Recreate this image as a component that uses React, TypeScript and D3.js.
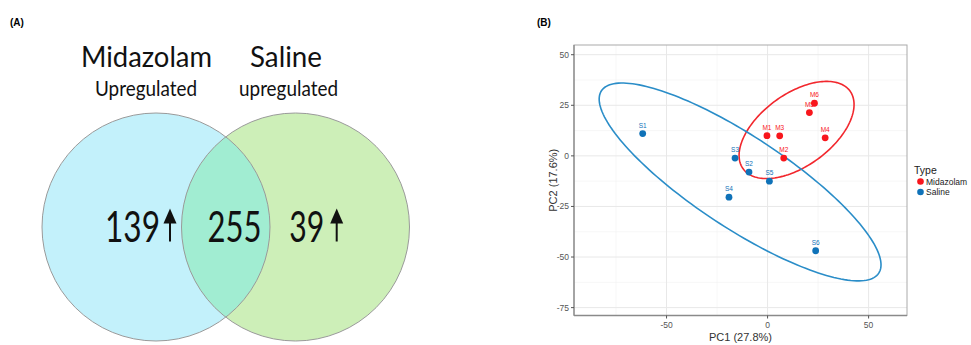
import React from 'react';
import * as d3 from 'd3';

// ---- Venn (A) data ----
const vennSets = ['Midazolam', 'Saline'];
const vennSubtitles = ['Upregulated', 'upregulated'];
const vennCounts = [139, 255, 39]; // left only, shared, right only
const vennArrows = [true, false, true];

// ---- PCA (B) data ----
const sampleNames = ['M1', 'M2', 'M3', 'M4', 'M5', 'M6', 'S1', 'S2', 'S3', 'S4', 'S5', 'S6'];
const sampleType = ['Midazolam', 'Midazolam', 'Midazolam', 'Midazolam', 'Midazolam', 'Midazolam',
  'Saline', 'Saline', 'Saline', 'Saline', 'Saline', 'Saline'];
const pc1 = [-0.3, 8.0, 6.0, 28.5, 20.7, 23.2, -61.8, -9.2, -16.1, -19.1, 0.9, 23.8];
const pc2 = [10.0, -1.1, 9.9, 8.9, 21.4, 26.0, 11.0, -8.0, -1.1, -20.4, -12.5, -46.9];
const typeLevels = ['Midazolam', 'Saline'];
const typeColors = ['#f8161c', '#0f72b8'];
const ellipseColors = ['#f2272d', '#2a8dc8'];
// 95% ellipses: centre, semi axes, rotation (deg), in data units
const ellCx = [14.35, -13.6];
const ellCy = [12.8, -12.9];
const ellA = [32.7, 82.1];
const ellB = [17.8, 22.7];
const ellAngle = [36, -33.3];
const xTicks = [-50, 0, 50];
const yTicks = [-75, -50, -25, 0, 25, 50];

const W = 971;
const H = 345;

const vennFont = "Lato, 'Open Sans', sans-serif";

function Venn() {
  const r = 114;
  const cy = 227;
  const cx = d3.scaleOrdinal<string, number>().domain(vennSets).range([156, 295.5]);
  const fills = ['#c3f1fb', '#cdefb8'];
  // text boxes (left x, width) measured on the reference
  const titleBox = [[81, 131], [250, 72]];
  const subBox = [[95, 102], [239, 99]];
  const countBox = [[105, 55], [207.5, 54], [289.3, 35]];
  const arrowX = [170, 336.7];
  let arrowIdx = 0;
  return (
    <g>
      <text x={10} y={26} fontFamily="Arial, 'Liberation Sans', sans-serif" fontWeight="bold" fontSize={10}>(A)</text>
      <defs>
        <clipPath id="clipLeft">
          <circle cx={cx(vennSets[0])} cy={cy} r={r} />
        </clipPath>
      </defs>
      {vennSets.map((s, i) => (
        <circle key={s} cx={cx(s)} cy={cy} r={r} fill={fills[i]} />
      ))}
      <circle cx={cx(vennSets[1])} cy={cy} r={r} fill="#a1edd2" clipPath="url(#clipLeft)" />
      {vennSets.map((s) => (
        <circle key={s + 'o'} cx={cx(s)} cy={cy} r={r} fill="none" stroke="#9a9a9a" strokeWidth={1} />
      ))}
      {vennSets.map((s, i) => (
        <g key={s + 't'} fontFamily={vennFont} fill="#111">
          <text x={titleBox[i][0]} y={66.5} fontSize={29.5} textLength={titleBox[i][1]} lengthAdjust="spacingAndGlyphs">{s}</text>
          <text x={subBox[i][0]} y={95.5} fontSize={22} textLength={subBox[i][1]} lengthAdjust="spacingAndGlyphs">{vennSubtitles[i]}</text>
        </g>
      ))}
      {vennCounts.map((c, i) => {
        const ax = vennArrows[i] ? arrowX[arrowIdx++] : 0;
        return (
          <g key={'c' + i}>
            <text x={countBox[i][0]} y={241.5} fontSize={43} fontFamily={vennFont} fill="#111"
              textLength={countBox[i][1]} lengthAdjust="spacingAndGlyphs">{c}</text>
            {vennArrows[i] && (
              <g transform={`translate(${ax},0)`}>
                <line x1={0} x2={0} y1={220} y2={241.5} stroke="#111" strokeWidth={2} />
                <path d="M-6.5,223.5 L0,208.5 L6.5,223.5 Z" fill="#111" />
              </g>
            )}
          </g>
        );
      })}
    </g>
  );
}

function Pca() {
  const left = 574, right = 907, top = 45, bottom = 315.5;
  const x = d3.scaleLinear().domain([-95.8, 69]).range([left, right]);
  const y = d3.scaleLinear().domain([-78.9, 54.8]).range([bottom, top]);
  const color = d3.scaleOrdinal<string, string>().domain(typeLevels).range(typeColors);
  const xMinor = d3.range(-75, 70, 50);
  const yMinor = d3.range(-62.5, 55, 25);
  const line = d3.line<[number, number]>().x((d) => x(d[0])).y((d) => y(d[1])).curve(d3.curveLinearClosed);
  const ellipses = typeLevels.map((t, k) => {
    const th = (ellAngle[k] * Math.PI) / 180;
    const pts: [number, number][] = d3.range(0, 360, 2).map((deg) => {
      const a = (deg * Math.PI) / 180;
      const u = ellA[k] * Math.cos(a);
      const v = ellB[k] * Math.sin(a);
      return [ellCx[k] + u * Math.cos(th) - v * Math.sin(th), ellCy[k] + u * Math.sin(th) + v * Math.cos(th)];
    });
    return line(pts);
  });
  const font = "Helvetica, Arial, 'Liberation Sans', sans-serif";
  return (
    <g fontFamily={font}>
      <text x={537} y={26} fontWeight="bold" fontSize={10}>(B)</text>
      <rect x={left} y={top} width={right - left} height={bottom - top} fill="#fff" />
      {xMinor.map((v) => (
        <line key={'xm' + v} x1={x(v)} x2={x(v)} y1={top} y2={bottom} stroke="#f2f2f2" strokeWidth={0.6} />
      ))}
      {yMinor.map((v) => (
        <line key={'ym' + v} y1={y(v)} y2={y(v)} x1={left} x2={right} stroke="#f2f2f2" strokeWidth={0.6} />
      ))}
      {xTicks.map((v) => (
        <line key={'xg' + v} x1={x(v)} x2={x(v)} y1={top} y2={bottom} stroke="#e8e8e8" strokeWidth={1} />
      ))}
      {yTicks.map((v) => (
        <line key={'yg' + v} y1={y(v)} y2={y(v)} x1={left} x2={right} stroke="#e8e8e8" strokeWidth={1} />
      ))}
      {ellipses.map((d, k) => (
        <path key={'e' + k} d={d || ''} fill="none" stroke={ellipseColors[k]} strokeWidth={1.6} />
      ))}
      {sampleNames.map((n, i) => (
        <g key={n}>
          <circle cx={x(pc1[i])} cy={y(pc2[i])} r={3.4} fill={color(sampleType[i])} />
          <text x={x(pc1[i])} y={y(pc2[i]) - 6} fontSize={6.5} textAnchor="middle" fill={color(sampleType[i])}>{n}</text>
        </g>
      ))}
      <rect x={left} y={top} width={right - left} height={bottom - top} fill="none" stroke="#aaa" strokeWidth={1} />
      <line x1={left} x2={left} y1={top} y2={bottom} stroke="#8a8a8a" strokeWidth={1.3} />
      <line x1={left} x2={right} y1={bottom} y2={bottom} stroke="#8a8a8a" strokeWidth={1.3} />
      {xTicks.map((v) => (
        <g key={'xt' + v}>
          <line x1={x(v)} x2={x(v)} y1={bottom} y2={bottom + 3} stroke="#555" />
          <text x={x(v)} y={bottom + 12} fontSize={8.5} textAnchor="middle" fill="#555">{v}</text>
        </g>
      ))}
      {yTicks.map((v) => (
        <g key={'yt' + v}>
          <line x1={left - 3} x2={left} y1={y(v)} y2={y(v)} stroke="#555" />
          <text x={left - 5} y={y(v) + 3} fontSize={8.5} textAnchor="end" fill="#555">{v}</text>
        </g>
      ))}
      <text x={(left + right) / 2} y={341} fontSize={11} textAnchor="middle" fill="#333">PC1 (27.8%)</text>
      <text transform={`translate(557,${(top + bottom) / 2}) rotate(-90)`} fontSize={11} textAnchor="middle" fill="#333">PC2 (17.6%)</text>
      <text x={914} y={174} fontSize={10.5} fill="#222">Type</text>
      {typeLevels.map((t, i) => (
        <g key={t}>
          <circle cx={920.5} cy={181.5 + i * 10.5} r={3.3} fill={typeColors[i]} />
          <text x={926} y={184.5 + i * 10.5} fontSize={8.5} fill="#222">{t}</text>
        </g>
      ))}
    </g>
  );
}

export default function App() {
  return (
    <svg width={W} height={H} style={{ position: 'absolute', left: 0, top: 0 }}>
      <rect width={W} height={H} fill="#fff" />
      <Venn />
      <Pca />
    </svg>
  );
}
